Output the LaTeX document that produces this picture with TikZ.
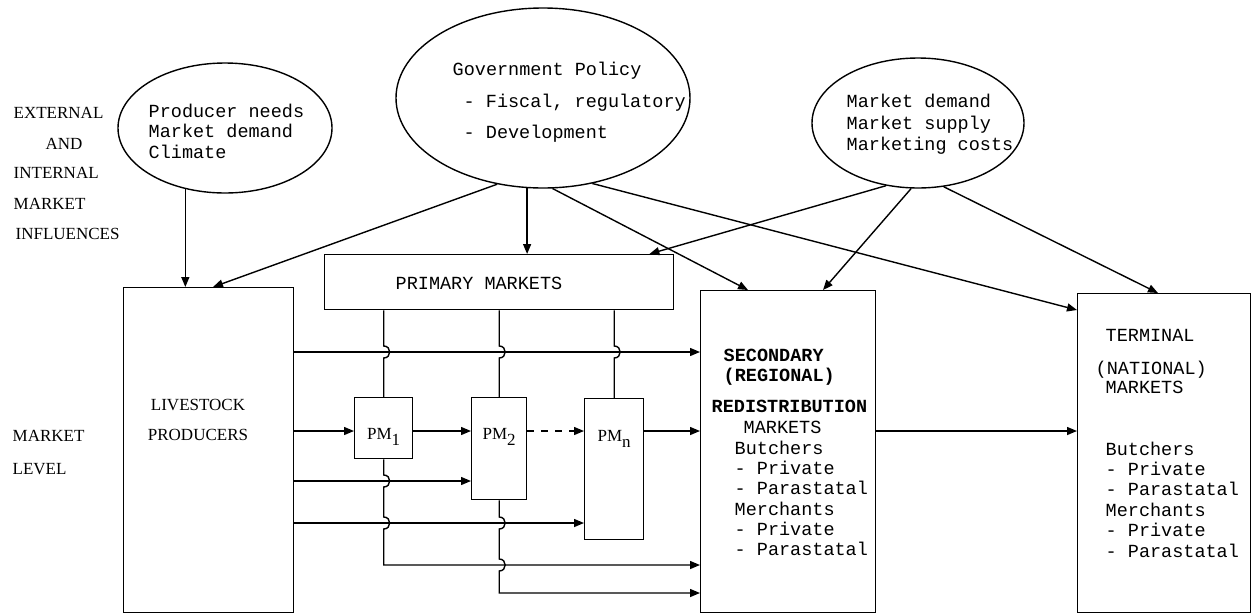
\documentclass[tikz,border=0pt]{standalone}
\usepackage{fontspec}
\setmainfont{Liberation Serif}
\newfontfamily\monof{Liberation Mono}
\usetikzlibrary{shapes.geometric,arrows.meta,calc}
\begin{document}
\begin{tikzpicture}[x=1pt,y=-1pt,line width=1.4pt,
  arr/.style={-{Triangle[length=10pt,width=8pt]}},
  box/.style={draw,rectangle,anchor=north west,inner sep=0pt},
  oval/.style={draw,ellipse,inner sep=0pt},
  mono/.style={font=\monof\fontsize{18.5}{20}\selectfont,inner sep=0pt,anchor=base west},
  monob/.style={font=\monof\bfseries\fontsize{18.5}{20}\selectfont,inner sep=0pt,anchor=base west},
  serif/.style={font=\fontsize{17}{20}\selectfont,inner sep=0pt,anchor=base west},
  pmlab/.style={font=\fontsize{17}{20}\selectfont,inner sep=0pt},
  hop/.style 2 args={insert path={-- ($(#1 |- #2)+(0,-6)$) .. controls +(8,0) and +(8,0) .. ($(#1 |- #2)+(0,6)$)}}]

\useasboundingbox (0,0) rectangle (1251,614);
\fill[white] (0,0) rectangle (1251,614);

% horizontal levels
\coordinate (y1) at (0,352);
\coordinate (y2) at (0,431);
\coordinate (y3) at (0,481);
\coordinate (y4) at (0,523);
\coordinate (y5) at (0,565);
\coordinate (y6) at (0,593);

% ellipses
\node[oval,minimum width=214pt,minimum height=130pt] (e1) at (225,128) {};
\node[oval,minimum width=294pt,minimum height=180pt] (e2) at (543,98) {};
\node[oval,minimum width=212pt,minimum height=130pt] (e3) at (918,123) {};

% boxes
\node[box,minimum width=170pt,minimum height=325pt] (lp) at (123,287) {};
\node[box,minimum width=349pt,minimum height=55pt] (pm) at (324,254) {};
\node[box,minimum width=58pt,minimum height=61pt] (pm1) at (354,397) {};
\node[box,minimum width=55pt,minimum height=102pt] (pm2) at (471,397) {};
\node[box,minimum width=59pt,minimum height=141pt] (pmn) at (584,398) {};
\node[box,minimum width=175pt,minimum height=322pt] (sec) at (700,290) {};
\node[box,minimum width=173pt,minimum height=319pt] (term) at (1077,293) {};

% left labels
\node[serif] (t1) at (13,118) {EXTERNAL};
\node[serif] (t2) at (45,149) {AND};
\node[serif] (t3) at (13,178) {INTERNAL};
\node[serif] (t4) at (13,209) {MARKET};
\node[serif] (t5) at (15,239) {INFLUENCES};
\node[serif] (t6) at (12,441) {MARKET};
\node[serif] (t7) at (12,474) {LEVEL};

% ellipse texts
\node[mono] (a1) at (148,117) {Producer needs};
\node[mono] (a2) at (148,137.5) {Market demand};
\node[mono] (a3) at (148,158) {Climate};
\node[mono] (b1) at (452,75) {Government Policy};
\node[mono] (b2) at (463,107) {- Fiscal, regulatory};
\node[mono] (b3) at (463,138) {- Development};
\node[mono] (c1) at (846,107) {Market demand};
\node[mono] (c2) at (846,129) {Market supply};
\node[mono] (c3) at (846,150) {Marketing costs};

% box texts
\node[serif,anchor=base] (lt1) at (198,410) {LIVESTOCK};
\node[serif,anchor=base] (lt2) at (198,440) {PRODUCERS};
\node[mono] (pmt) at (395,289) {PRIMARY MARKETS};
\node[pmlab] (pl1) at ([yshift=-40pt]pm1.north) {PM\raisebox{-6pt}{1}};
\node[pmlab] (pl2) at ([yshift=-40pt]pm2.north) {PM\raisebox{-6pt}{2}};
\node[pmlab] (pln) at ([yshift=-41pt]pmn.north) {PM\raisebox{-6pt}{n}};

\node[monob] (s1) at (723,361) {SECONDARY};
\node[monob] (s2) at (723,381) {(REGIONAL)};
\node[monob] (s3) at (711,412) {REDISTRIBUTION};
\node[mono] (s4) at (743,433) {MARKETS};
\node[mono] (s5) at (734,454) {Butchers};
\node[mono] (s6) at (734,474) {- Private};
\node[mono] (s7) at (734,494) {- Parastatal};
\node[mono] (s8) at (734,515) {Merchants};
\node[mono] (s9) at (734,535) {- Private};
\node[mono] (s10) at (734,555) {- Parastatal};

\node[mono] (r1) at (1105,341) {TERMINAL};
\node[mono] (r2) at (1095,374) {(NATIONAL)};
\node[mono] (r3) at (1105,393) {MARKETS};
\node[mono] (r4) at (1105,455) {Butchers};
\node[mono] (r5) at (1105,475) {- Private};
\node[mono] (r6) at (1105,495) {- Parastatal};
\node[mono] (r7) at (1105,516) {Merchants};
\node[mono] (r8) at (1105,536) {- Private};
\node[mono] (r9) at (1105,557) {- Parastatal};

% arrows from ellipses
\draw[arr] (e1.237) -- (e1.237 |- lp.north);
\draw[arr] (e2.242) -- ([xshift=90pt]lp.north west);
\draw[arr] (e2.260.5) -- (e2.260.5 |- pm.north);
\draw[arr] (e2.276.3) -- ([xshift=48pt]sec.north west);
\draw[arr] (e2.300.8) -- ([yshift=-17pt]term.north west);
\draw[arr] (e3.243.4) -- ([xshift=-25pt]pm.north east);
\draw[arr] (e3.264.7) -- ([xshift=123pt]sec.north west);
\draw[arr] (e3.292.9) -- ([xshift=81pt]term.north west);

% horizontal flows
\draw[arr] (lp.east |- y1) -- (sec.west |- y1);
\draw[arr] (lp.east |- y2) -- (pm1.west |- y2);
\draw[arr] (pm1.east |- y2) -- (pm2.west |- y2);
\draw[arr,dash pattern=on 7pt off 7pt] (pm2.east |- y2) -- (pmn.west |- y2);
\draw[arr] (pmn.east |- y2) -- (sec.west |- y2);
\draw[arr] (sec.east |- y2) -- (term.west |- y2);
\draw[arr] (lp.east |- y3) -- (pm2.west |- y3);
\draw[arr] (lp.east |- y4) -- (pmn.west |- y4);

% vertical links with hops
\draw (pm.south -| pm1.north) [hop={pm1.north}{y1}] -- (pm1.north);
\draw (pm.south -| pm2.north) [hop={pm2.north}{y1}] -- (pm2.north);
\draw (pm.south -| pmn.north) [hop={pmn.north}{y1}] -- (pmn.north);
\draw[arr] (pm1.south) [hop={pm1.south}{y3}] [hop={pm1.south}{y4}] -- (pm1.south |- y5) -- (sec.west |- y5);
\draw[arr] (pm2.south) [hop={pm2.south}{y4}] [hop={pm2.south}{y5}] -- (pm2.south |- y6) -- (sec.west |- y6);
\end{tikzpicture}
\end{document}
